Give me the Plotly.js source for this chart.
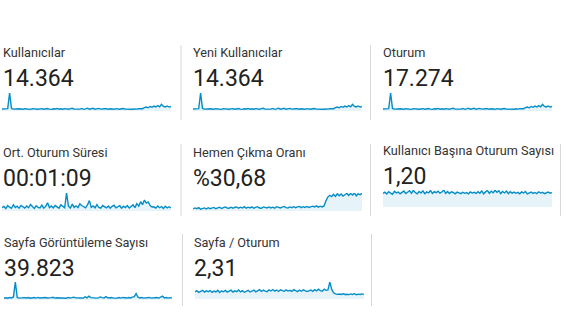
<!DOCTYPE html>
<html><head><meta charset="utf-8">
<script src="https://cdn.plot.ly/plotly-3.0.1.min.js"></script>
<style>html,body{margin:0;padding:0;background:#fff;overflow:hidden}#c{width:575px;height:322px}</style>
</head><body><div id="c"></div>
<script>
const metricTitles = ["Kullanıcılar","Yeni Kullanıcılar","Oturum","Ort. Oturum Süresi","Hemen Çıkma Oranı","Kullanıcı Başına Oturum Sayısı","Sayfa Görüntüleme Sayısı","Sayfa / Oturum"];
const metricValues = ["14.364","14.364","17.274","00:01:09","%30,68","1,20","39.823","2,31"];

const users = [128,142,115,150,1150,165,120,138,110,145,
129,112,147,118,135,106,152,124,140,115,
132,150,110,127,158,121,106,143,126,162,
114,138,109,148,126,117,155,170,121,112,
144,119,162,108,136,180,115,149,175,112,
140,168,118,110,139,152,113,146,128,108,
150,122,113,141,158,117,109,147,131,116,
138,120,152,125,145,215,250,205,290,240,
310,255,340,270,430,295,260,320,250,285];

const newUsers = [128,142,115,150,1150,165,120,138,110,145,
129,112,147,118,135,106,152,124,140,115,
132,150,110,127,158,121,106,143,126,162,
114,138,109,148,126,117,155,170,121,112,
144,119,162,108,136,180,115,149,175,112,
140,168,118,110,139,152,113,146,128,108,
150,122,113,141,158,117,109,147,131,116,
138,120,152,125,145,215,250,205,290,240,
310,255,340,270,430,295,260,320,250,285];

const sessions = [152,170,138,180,1380,198,144,166,132,174,
155,134,176,142,162,127,182,149,168,138,
158,180,132,152,190,145,127,172,151,194,
137,166,131,178,151,140,186,204,145,134,
173,143,194,130,163,216,138,179,210,134,
168,202,142,132,167,182,136,175,154,130,
180,146,136,169,190,140,131,176,157,139,
166,144,182,150,174,258,300,246,348,288,
372,306,408,324,516,354,312,384,300,342];

const avgDuration = [62,85,45,98,70,50,115,64,88,52,
102,70,55,92,60,120,76,48,95,66,
58,108,52,84,150,64,92,55,100,70,
52,112,80,60,330,88,55,125,66,95,
62,130,100,70,58,110,190,66,92,58,
118,64,52,100,74,58,92,50,85,105,
56,78,96,50,88,64,100,55,80,112,
60,135,90,170,115,200,145,165,100,72,
76,52,90,60,82,48,86,58,78,55];

const bounceRate = [8,12,9,13,7,11,12,8,13,9,
12,14,9,13,15,10,13,16,12,11,
15,11,14,16,11,15,12,17,11,15,
12,16,11,15,17,12,11,16,13,12,
16,12,15,11,17,14,12,15,18,13,
12,16,13,17,13,16,18,13,17,14,
18,14,17,19,16,20,15,19,16,20,
40,55,62,57,66,58,68,60,67,59,
64,70,61,69,63,71,60,68,64,70];

const sessionsPerUser = [1.15,1.26,1.10,1.30,1.18,1.08,1.33,1.20,1.27,1.12,
1.24,1.35,1.14,1.29,1.38,1.16,1.42,1.22,1.11,1.31,
1.19,1.37,1.13,1.28,1.20,1.40,1.15,1.30,1.21,1.34,
1.17,1.27,1.44,1.16,1.32,1.14,1.29,1.23,1.12,1.26,
1.21,1.13,1.25,1.16,1.22,1.12,1.28,1.18,1.24,1.15,
1.30,1.17,1.36,1.12,1.28,1.40,1.16,1.33,1.20,1.42,
1.25,1.38,1.14,1.31,1.19,1.35,1.13,1.29,1.18,1.26,
1.16,1.24,1.12,1.28,1.19,1.31,1.11,1.22,1.27,1.15,
1.23,1.14,1.29,1.18,1.25,1.13,1.21,1.27,1.17,1.22];

const pageViews = [360,420,340,450,380,560,3300,480,350,410,
340,430,365,445,330,400,455,350,470,360,
410,340,460,380,355,440,500,345,420,395,
350,450,400,335,480,370,425,520,390,345,
430,375,350,600,395,700,440,360,420,340,
400,560,430,350,620,410,365,450,340,425,
370,445,345,470,395,355,455,380,540,600,
1150,500,370,460,350,430,375,470,345,415,
395,450,350,480,700,380,460,345,440,390];

const pagesPerSession = [2.20,2.60,2.05,2.50,2.70,2.15,2.55,2.30,2.65,2.10,
2.45,2.20,2.70,2.05,2.55,2.25,2.68,2.15,2.50,2.75,
2.15,2.55,2.30,2.80,2.20,2.60,2.10,2.45,2.72,2.18,
2.40,2.78,2.25,2.62,2.90,2.35,2.75,2.45,2.30,2.85,
2.50,2.95,2.45,2.80,2.35,2.88,2.55,2.40,2.82,2.48,
2.70,2.35,2.90,2.50,2.30,2.78,2.42,2.85,2.55,2.33,
2.52,2.80,2.40,2.92,2.55,3.05,2.62,2.45,3.10,2.70,
2.85,5.30,3.00,1.95,1.60,1.45,1.55,1.40,1.62,1.42,
1.50,1.38,1.58,1.42,1.65,1.36,1.52,1.40,1.60,1.45];

const seriesList = [users,newUsers,sessions,avgDuration,bounceRate,sessionsPerUser,pageViews,pagesPerSession];

// layout boxes in pixels: [sparkX0, sparkX1, sparkTop, sparkBottom, textX, titleY, valueY]
const W = 575, H = 322;
const boxes = [
  [2,171,93,111,1,52.5,78.5],
  [193,362,93,111,191,52.5,78.5],
  [383,552,93,111,381,52.5,78.5],
  [2,171,193,211,1,153,178.5],
  [193,362,193,211,191,153,178.5],
  [383,552,190,207,381,150.5,176],
  [4,172,282,300,2,242.5,268.5],
  [195,364,282,299,192,242.5,268.5]
];
const dividers = [
  [181,45,120],[370.5,45,120],
  [181,144,216],[370.5,144,216],[560.5,144,216],
  [182.5,234,306],[371.5,234,306]
];

const px = v => v / W;
const py = v => 1 - v / H;

const data = [];
const layout = {
  width: W, height: H,
  margin: {l:0,r:0,t:0,b:0},
  paper_bgcolor: '#fff', plot_bgcolor: 'rgba(0,0,0,0)',
  showlegend: false,
  annotations: [], shapes: []
};

seriesList.forEach((s, i) => {
  const b = boxes[i];
  const k = i === 0 ? '' : String(i + 1);
  data.push({
    type: 'scatter', mode: 'lines',
    x: s.map((_, j) => j), y: s,
    xaxis: 'x' + k, yaxis: 'y' + k,
    fill: 'tozeroy', fillcolor: 'rgba(5,141,199,0.10)',
    line: {color: '#058dc7', width: 1.4},
    hoverinfo: 'skip'
  });
  const ax = {showgrid:false, zeroline:false, showticklabels:false, showline:false, ticks:'', fixedrange:true};
  layout['xaxis' + k] = Object.assign({}, ax, {domain:[px(b[0]), px(b[1])], range:[0, s.length - 1], anchor:'y' + k});
  layout['yaxis' + k] = Object.assign({}, ax, {domain:[py(b[3]), py(b[2])], range:[0, Math.max(...s)], anchor:'x' + k});
  layout.annotations.push({
    xref:'paper', yref:'paper', x: px(b[4]), y: py(b[5]), xanchor:'left', yanchor:'middle',
    text: metricTitles[i], showarrow:false,
    font:{family:'Roboto, Arial, sans-serif', size:12.7, color:'#333'}
  });
  layout.annotations.push({
    xref:'paper', yref:'paper', x: px(b[4]), y: py(b[6]), xanchor:'left', yanchor:'middle',
    text: metricValues[i], showarrow:false,
    font:{family:'Roboto, Arial, sans-serif', size:23, color:'#222'}
  });
});

dividers.forEach(d => {
  layout.shapes.push({type:'line', xref:'paper', yref:'paper', x0:px(d[0]), x1:px(d[0]), y0:py(d[1]), y1:py(d[2]), line:{color:'#d8d8d8', width:1}});
});

Plotly.newPlot('c', data, layout, {staticPlot:true, displayModeBar:false});
</script>
</body></html>
